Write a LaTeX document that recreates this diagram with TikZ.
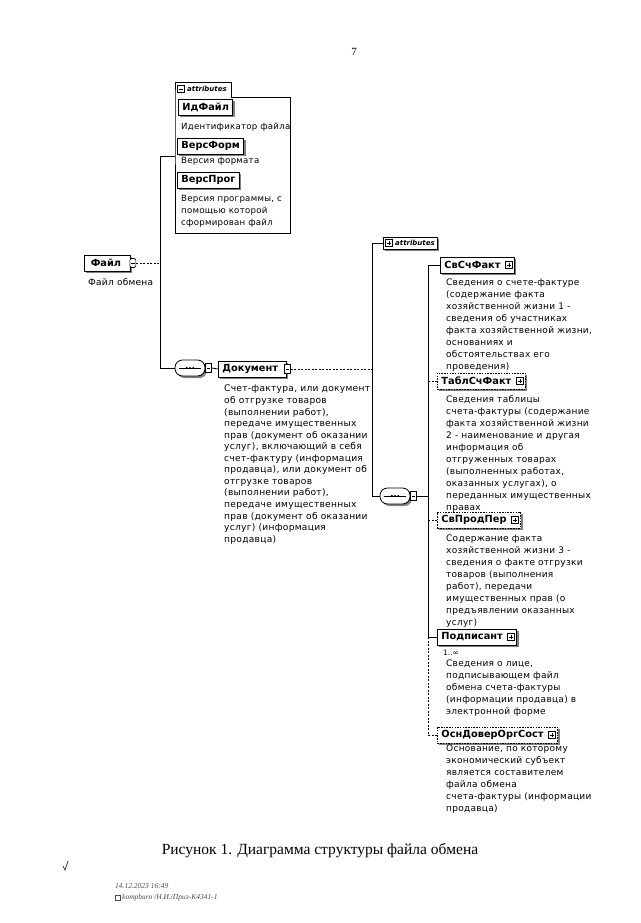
\documentclass[tikz,border=0pt]{standalone}
\usepackage{fontspec}
\setmainfont{DejaVu Sans}
\newfontfamily\descfont[LetterSpace=3]{DejaVu Sans}
\newfontfamily\capfont{Liberation Serif}
\usetikzlibrary{shadows}
\begin{document}
\begin{tikzpicture}[x=1pt,y=-1pt,
  shd/.style={drop shadow={shadow xshift=2pt,shadow yshift=-2pt,fill=black!50,opacity=1}},
  el/.style={draw,line width=0.9pt,fill=white,font=\fontsize{9.8}{11}\selectfont\bfseries,
    inner xsep=4pt,inner ysep=0pt,minimum height=16pt,anchor=west,shd},
  opt/.style={el,dashed,dash pattern=on 1.5pt off 1.2pt},
  desc/.style={anchor=north west,align=left,inner sep=0pt,font=\descfont\fontsize{9}{12}\selectfont},
  ln/.style={line width=0.8pt},
  dln/.style={line width=0.8pt,dash pattern=on 2pt off 1.5pt},
  icon/.style={draw,line width=0.6pt,fill=white,minimum size=7pt,inner sep=0pt},
  minusicon/.style={icon,path picture={\draw[line width=0.6pt]
     ([xshift=1.4pt]path picture bounding box.west) -- ([xshift=-1.4pt]path picture bounding box.east);}},
  plusicon/.style={icon,path picture={\draw[line width=0.6pt]
     ([xshift=1.4pt]path picture bounding box.west) -- ([xshift=-1.4pt]path picture bounding box.east)
     ([yshift=-1.4pt]path picture bounding box.north) -- ([yshift=1.4pt]path picture bounding box.south);}},
  seq/.style={draw,line width=0.8pt,fill=white,rounded corners=7.5pt,minimum width=30pt,minimum height=16pt,shd},
  attrtxt/.style={font=\fontsize{7}{8}\selectfont\bfseries\itshape,inner sep=0pt,anchor=west},
]
\useasboundingbox (0,0) rectangle (640,923);
\fill[white] (0,0) rectangle (640,923);

% page number
\node[font=\capfont\fontsize{11}{12}\selectfont] (pgnum) at (354,52) {7};

% ---------- top attributes container ----------
\node[minimum width=115pt,minimum height=136pt,inner sep=0pt,anchor=north west] (abox) at (175,97) {};
\draw[ln] (abox.north west) -- ++(0,-15) -- ++(56,0) -- ++(0,15) -- (abox.north east)
  -- (abox.south east) -- (abox.south west) -- cycle;
\node[minusicon] (a1icon) at (181,89) {};
\node[attrtxt] (a1txt) at (187,89) {attributes};

\node[el] (idf) at (178,107) {ИдФайл};
\node[desc,font=\descfont\fontsize{8.6}{12}\selectfont] (didf) at (181,123) {Идентификатор файла};
\node[el] (vform) at (177,146) {ВерсФорм};
\node[desc,font=\descfont\fontsize{8.6}{12}\selectfont] (dvform) at (181,157) {Версия формата};
\node[el] (vprog) at (177,180) {ВерсПрог};
\node[desc,font=\descfont\fontsize{8.6}{12}\selectfont] (dvprog) at (181,195) {Версия программы, с\\помощью которой\\сформирован файл};

% ---------- root ----------
\node[el,minimum width=46pt] (file) at (84,263) {Файл\kern3pt};
\node[minusicon,minimum height=9pt,minimum width=6pt,rounded corners=1.5pt] (fileicon) at ([xshift=2pt]file.east) {};
\node[desc] (dfile) at (88,278) {Файл обмена};

\coordinate (b1top) at (160,156);
\coordinate (b1mid) at (160,263);
\coordinate (b1bot) at (160,368);

\node[seq] (seq1) at (190,368) {};
\node[minusicon,minimum height=9pt,minimum width=6pt] (seq1icon) at ([xshift=3pt]seq1.east) {};
\node[el,minimum width=65pt] (doc) at (218,369) {Документ\kern4pt};
\node[minusicon,minimum height=9pt,minimum width=6pt] (docicon) at ([xshift=1pt]doc.east) {};
\node[desc,font=\descfont\fontsize{9.1}{11.55}\selectfont] (ddoc) at (224,385) {Счет-фактура, или документ\\об отгрузке товаров\\(выполнении работ),\\передаче имущественных\\прав (документ об оказании\\услуг), включающий в себя\\счет-фактуру (информация\\продавца), или документ об\\отгрузке товаров\\(выполнении работ),\\передаче имущественных\\прав (документ об оказании\\услуг) (информация\\продавца)};

\draw[ln] (b1top -| abox.west) -- (b1top) -- (b1bot) -- (seq1.west);
\draw[dln] (fileicon.east) -- (b1mid);
\draw[ln] (seq1icon.east) -- (doc.west);

% ---------- second level ----------
\coordinate (b2top) at (372,243);
\coordinate (b2mid) at (372,369);
\coordinate (b2bot) at (372,496);

\node[draw,line width=0.8pt,fill=white,minimum width=54pt,minimum height=12pt,inner sep=0pt,anchor=west,shd] (attr2) at (383,243) {};
\node[plusicon] (a2icon) at (389,243) {};
\node[attrtxt] (a2txt) at (395,243) {attributes};

\node[seq] (seq2) at (395,496) {};
\node[minusicon,minimum height=9pt,minimum width=6pt] (seq2icon) at ([xshift=3pt]seq2.east) {};

% sequence symbols
\foreach \s in {seq1,seq2} {
  \draw[line width=0.7pt] ([xshift=4pt]\s.west) -- ([xshift=-4pt]\s.east);
  \fill ([xshift=-3.2pt]\s.center) circle (1.2pt) (\s.center) circle (1.2pt) ([xshift=3.2pt]\s.center) circle (1.2pt);
}

\draw[dln] (docicon.east) -- (b2mid);
\draw[ln] (attr2.west) -- (b2top) -- (b2bot) -- (seq2.west);

% ---------- third level ----------
\coordinate (b3top) at (428,265);
\coordinate (b3mid) at (428,496);
\coordinate (b3sol) at (428,637);
\coordinate (b3bot) at (428,735);
\draw[ln] (seq2icon.east) -- (b3mid);
\draw[ln] (b3top) -- (b3sol);
\draw[dln] (b3sol) -- (b3bot);

\node[el] (c1) at (440,265) {СвСчФакт\kern10pt};
\node[plusicon] (c1icon) at ([xshift=-6pt]c1.east) {};
\node[desc] (dc1) at (446,279) {Сведения о счете-фактуре\\(содержание факта\\хозяйственной жизни 1 -\\сведения об участниках\\факта хозяйственной жизни,\\основаниях и\\обстоятельствах его\\проведения)};

\node[opt] (c2) at (437,381) {ТаблСчФакт\kern10pt};
\node[plusicon] (c2icon) at ([xshift=-6pt]c2.east) {};
\node[desc] (dc2) at (446,395) {Сведения таблицы\\счета-фактуры (содержание\\факта хозяйственной жизни\\2 - наименование и другая\\информация об\\отгруженных товарах\\(выполненных работах,\\оказанных услугах), о\\переданных имущественных\\правах};

\node[opt] (c3) at (437,520) {СвПродПер\kern10pt};
\node[plusicon] (c3icon) at ([xshift=-6pt]c3.east) {};
\node[desc] (dc3) at (446,535) {Содержание факта\\хозяйственной жизни 3 -\\сведения о факте отгрузки\\товаров (выполнения\\работ), передачи\\имущественных прав (о\\предъявлении оказанных\\услуг)};

\node[el] (c4) at (437,637) {Подписант\kern10pt};
\node[plusicon] (c4icon) at ([xshift=-6pt]c4.east) {};
\node[inner sep=0pt,font=\fontsize{7.5}{8}\selectfont] (c4card) at (451,653) {1..∞};
\node[desc] (dc4) at (446,660) {Сведения о лице,\\подписывающем файл\\обмена счета-фактуры\\(информации продавца) в\\электронной форме};

\node[opt] (c5) at (437,735) {ОснДоверОргСост\kern10pt};
\node[plusicon] (c5icon) at ([xshift=-6pt]c5.east) {};
\node[desc] (dc5) at (446,745) {Основание, по которому\\экономический субъект\\является составителем\\файла обмена\\счета-фактуры (информации\\продавца)};

\draw[ln] (b3top) -- (c1.west);
\draw[dln] (b3top |- c2.west) -- (c2.west);
\draw[dln] (b3top |- c3.west) -- (c3.west);
\draw[ln] (b3top |- c4.west) -- (c4.west);
\draw[dln] (b3bot) -- (c5.west);

% ---------- caption and footer ----------
\node[font=\capfont\fontsize{15.5}{18}\selectfont] (caption) at (320,851) {Рисунок 1. Диаграмма структуры файла обмена};
\draw[line width=0.6pt,line cap=round] (63,866) -- (65,870) -- (68,861);
\node[anchor=west,inner sep=0pt,font=\capfont\itshape\fontsize{7.5}{9}\selectfont,text=black!70] (ftime) at (115,886) {14.12.2023 16:49};
\node[draw,black!70,line width=0.4pt,minimum size=5pt,inner sep=0pt,anchor=west] (ficon) at (115,898) {};
\node[anchor=west,inner sep=0pt,font=\capfont\itshape\fontsize{7.5}{9}\selectfont,text=black!70] (fuser) at (122,898) {kompburo /Н.И./Приз-К4341-1};
\end{tikzpicture}
\end{document}
